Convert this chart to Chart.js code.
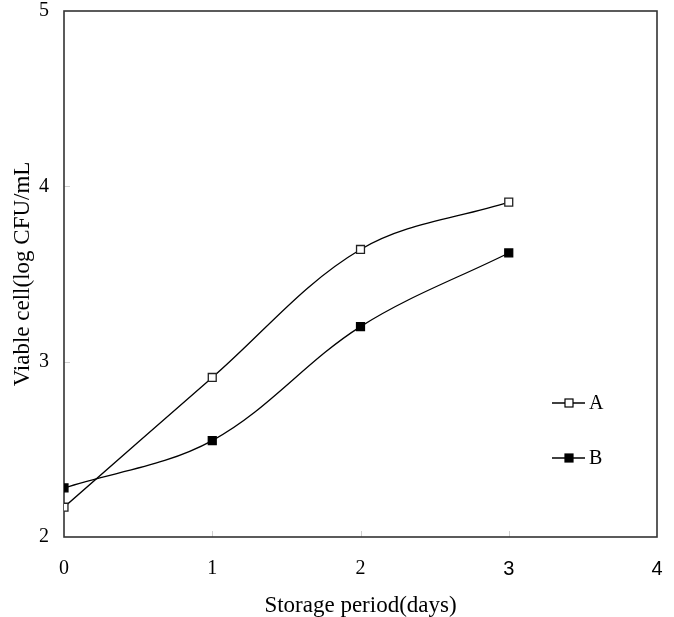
<!DOCTYPE html>
<html><head><meta charset="utf-8">
<script src="https://cdn.jsdelivr.net/npm/chart.js@4.4.0/dist/chart.umd.min.js"></script>
<style>html,body{margin:0;padding:0;background:#fff}#wrap{width:674px;height:617px}</style>
</head><body><div id="wrap"><canvas id="c" width="674" height="617"></canvas></div>
<script>
const days = [0, 1, 2, 3];
const seriesA = [2.17, 2.91, 3.64, 3.91];
const seriesB = [2.28, 2.55, 3.20, 3.62];
const xTicks = [0, 1, 2, 3, 4];
const yTicks = [2, 3, 4, 5];
const seriesNames = ['A', 'B'];
const xTitle = 'Storage period(days)';
const yTitle = 'Viable cell(log CFU/mL';

const SERIF = '"Liberation Serif", "Times New Roman", serif';

const framePlugin = {
  id: 'frame',
  beforeDatasetsDraw(chart) {
    const {ctx, chartArea: a, scales} = chart;
    ctx.save();
    ctx.strokeStyle = '#cfcfcf';
    ctx.lineWidth = 1;
    xTicks.forEach(v => {
      if (v === xTicks[0] || v === xTicks[xTicks.length-1]) return;
      const px = Math.round(scales.x.getPixelForValue(v)) + 0.5;
      ctx.beginPath(); ctx.moveTo(px, a.bottom); ctx.lineTo(px, a.bottom - 6); ctx.stroke();
    });
    yTicks.forEach(v => {
      if (v === yTicks[0] || v === yTicks[yTicks.length-1]) return;
      const py = Math.round(scales.y.getPixelForValue(v)) + 0.5;
      ctx.beginPath(); ctx.moveTo(a.left, py); ctx.lineTo(a.left + 6, py); ctx.stroke();
    });
    ctx.strokeStyle = '#333';
    ctx.lineWidth = 1.6;
    ctx.strokeRect(a.left, a.top, a.right - a.left, a.bottom - a.top);
    ctx.restore();
  }
};

const legendPlugin = {
  id: 'customLegend',
  afterDraw(chart) {
    const {ctx} = chart;
    const items = [
      {name: seriesNames[0], y: 403, fill: '#fff'},
      {name: seriesNames[1], y: 458, fill: '#000'}
    ];
    ctx.save();
    items.forEach(it => {
      ctx.strokeStyle = '#000';
      ctx.lineWidth = 1.3;
      ctx.beginPath(); ctx.moveTo(552, it.y); ctx.lineTo(585, it.y); ctx.stroke();
      ctx.fillStyle = it.fill;
      ctx.fillRect(565, it.y - 4, 8, 8);
      ctx.lineWidth = 1.2;
      ctx.strokeRect(565, it.y - 4, 8, 8);
      ctx.fillStyle = '#000';
      ctx.font = '20px ' + SERIF;
      ctx.textBaseline = 'middle';
      ctx.textAlign = 'left';
      ctx.fillText(it.name, 589, it.y + 1);
    });
    ctx.restore();
  }
};

const mk = (vals) => days.map((d, i) => ({x: d, y: vals[i]}));

new Chart(document.getElementById('c'), {
  type: 'scatter',
  data: {
    datasets: [
      {
        label: seriesNames[0], data: mk(seriesA), showLine: true,
        borderColor: '#000', borderWidth: 1.3, tension: 0.35,
        pointStyle: 'rect', pointRadius: 5.6, pointBorderWidth: 1.3,
        pointBackgroundColor: '#fff', pointBorderColor: '#222'
      },
      {
        label: seriesNames[1], data: mk(seriesB), showLine: true,
        borderColor: '#000', borderWidth: 1.3, tension: 0.35,
        pointStyle: 'rect', pointRadius: 5.6, pointBorderWidth: 1.3,
        pointBackgroundColor: '#000', pointBorderColor: '#000'
      }
    ]
  },
  options: {
    responsive: false, animation: false, devicePixelRatio: 1,
    layout: {padding: {top: 11, right: 17, left: 0, bottom: 0}},
    plugins: {legend: {display: false}, tooltip: {enabled: false}},
    scales: {
      x: {
        type: 'linear', min: 0, max: 4,
        afterBuildTicks: s => { s.ticks = xTicks.map(v => ({value: v})); },
        afterFit: s => { s.height = 80; s.paddingLeft = 0; s.paddingRight = 0; },
        grid: {display: false, drawTicks: false}, border: {display: false},
        ticks: {
          color: '#000', padding: 20,
          font: ctx => ({family: (ctx.tick && ctx.tick.value >= 3) ? '"Liberation Sans", Arial, sans-serif' : SERIF, size: 20}),
          callback: v => String(v)
        },
        title: {display: true, text: xTitle, color: '#000', font: {family: SERIF, size: 23}, padding: {top: 0, bottom: -3}}
      },
      y: {
        type: 'linear', min: 2, max: 5,
        afterBuildTicks: s => { s.ticks = yTicks.map(v => ({value: v})); },
        afterFit: s => { s.width = 64; s.paddingTop = 0; s.paddingBottom = 0; },
        grid: {display: false, drawTicks: false}, border: {display: false},
        ticks: {color: '#000', padding: 15, font: {family: SERIF, size: 20, lineHeight: 1}, callback: v => String(v)},
        title: {display: true, text: yTitle, color: '#000', font: {family: SERIF, size: 23}, padding: {top: 9, bottom: 0}}
      }
    }
  },
  plugins: [framePlugin, legendPlugin]
});
</script></body></html>
